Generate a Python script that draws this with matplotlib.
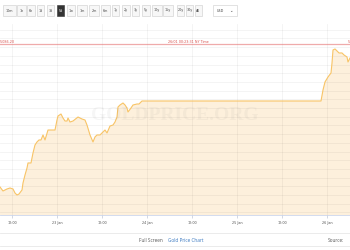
import numpy as np
import pandas as pd
import matplotlib
matplotlib.use("Agg")
import matplotlib.pyplot as plt
import matplotlib.dates as mdates
from matplotlib.patches import Rectangle
from matplotlib.ticker import FuncFormatter

# 5-day gold price (USD/oz), 22 Jan - 26 Jan
times = [
    "2026-01-22 08:48", "2026-01-22 09:36", "2026-01-22 10:40", "2026-01-22 11:28",
    "2026-01-22 12:16", "2026-01-22 12:48", "2026-01-22 13:20", "2026-01-22 13:52",
    "2026-01-22 14:40", "2026-01-22 14:56", "2026-01-22 15:28", "2026-01-22 16:00",
    "2026-01-22 16:16", "2026-01-22 17:04", "2026-01-22 17:36", "2026-01-22 18:08",
    "2026-01-22 18:40", "2026-01-22 19:12", "2026-01-22 19:44", "2026-01-22 20:16",
    "2026-01-22 20:48", "2026-01-22 21:36", "2026-01-22 23:28", "2026-01-23 00:00",
    "2026-01-23 00:16", "2026-01-23 01:04", "2026-01-23 01:36", "2026-01-23 02:08",
    "2026-01-23 02:40", "2026-01-23 02:56", "2026-01-23 03:28", "2026-01-23 04:16",
    "2026-01-23 05:36", "2026-01-23 06:40", "2026-01-23 07:28", "2026-01-23 08:00",
    "2026-01-23 08:48", "2026-01-23 09:36", "2026-01-23 10:08", "2026-01-23 10:40",
    "2026-01-23 11:28", "2026-01-23 12:16", "2026-01-23 12:48", "2026-01-23 13:20",
    "2026-01-23 14:08", "2026-01-23 14:56", "2026-01-23 15:28", "2026-01-23 16:00",
    "2026-01-23 16:16", "2026-01-23 16:48", "2026-01-23 17:36", "2026-01-23 18:08",
    "2026-01-23 18:40", "2026-01-23 18:56", "2026-01-23 19:44", "2026-01-23 20:16",
    "2026-01-23 21:20", "2026-01-23 21:52", "2026-01-23 22:40", "2026-01-25 22:24",
    "2026-01-25 22:56", "2026-01-25 23:28", "2026-01-26 00:16", "2026-01-26 01:04",
    "2026-01-26 01:20", "2026-01-26 01:36", "2026-01-26 02:08", "2026-01-26 02:40",
    "2026-01-26 03:12", "2026-01-26 04:00", "2026-01-26 04:32", "2026-01-26 05:20",
    "2026-01-26 05:36", "2026-01-26 06:08",
]
prices = [
    4758.6, 4749.4, 4754.0, 4756.3, 4754.0, 4744.8, 4740.2, 4742.5,
    4751.7, 4767.8, 4786.2, 4802.3, 4813.8, 4813.8, 4836.8, 4855.2,
    4862.1, 4866.7, 4866.7, 4878.2, 4866.7, 4889.6, 4889.6, 4912.6,
    4921.8, 4926.4, 4917.2, 4910.3, 4910.3, 4917.2, 4908.0, 4910.3,
    4919.5, 4914.9, 4912.6, 4901.1, 4878.2, 4862.1, 4873.6, 4878.2,
    4878.2, 4885.1, 4889.6, 4882.8, 4898.8, 4901.1, 4908.0, 4919.5,
    4942.5, 4947.1, 4951.7, 4947.1, 4940.2, 4931.0, 4940.2, 4947.1,
    4949.4, 4949.4, 4956.3, 4956.3, 4981.6, 5000.0, 5011.5, 5020.7,
    5043.7, 5073.6, 5075.9, 5071.3, 5066.7, 5066.7, 5062.1, 5057.5,
    5046.0, 5055.2,
]
last_price = 5086.2
last_label = "5,086.20"
time_label = "26/01 00:23:31 NY Time"
x_range = ["2026-01-22 08:48", "2026-01-26 06:08"]
y_range = [4694.2, 5133.3]

buttons = ["10m", "1h", "6h", "1d", "3d", "5d", "1w", "1m", "2m", "6m",
           "1y", "2y", "3y", "5y", "10y", "15y", "20y", "30y", "All"]
btn_x = [3, 17, 27, 37, 47, 57, 67, 77, 89, 101, 112, 122, 132, 142, 152, 163,
         177, 186, 195]
btn_w = [13, 9, 8, 7, 7, 7, 8, 10, 10, 9, 7, 8, 7, 8, 10, 10, 7, 7, 7]

LINE = "#f8c466"
FILL = "#fdf0dc"
RED = "#e57373"
W, H = 350, 250

t = pd.to_datetime(times)
fig = plt.figure(figsize=(3.5, 2.5), dpi=100)
fig.patch.set_facecolor("white")


def fx(x):
    return x / W


def fy(y):
    return 1 - y / H


ax = fig.add_axes([0, fy(215), 1, (215 - 24) / H])
ax.set_facecolor("white")
ax.fill_between(t, prices, y_range[0], color=FILL, lw=0, zorder=1)
ax.plot(t, prices, color=LINE, lw=0.8, zorder=3)
ax.set_xlim(pd.to_datetime(x_range))
ax.set_ylim(y_range)

ax.yaxis.set_major_locator(matplotlib.ticker.MultipleLocator(20))
ax.xaxis.set_major_locator(mdates.HourLocator(byhour=[0, 12]))
ax.xaxis.set_major_formatter(FuncFormatter(
    lambda v, p: mdates.num2date(v).strftime("%H:%M") if mdates.num2date(v).hour
    else mdates.num2date(v).strftime("%d Jan")))
ax.grid(True, color="black", alpha=0.05, lw=0.6, zorder=2)
ax.set_axisbelow(False)
ax.tick_params(axis="y", left=False, labelleft=False)
ax.tick_params(axis="x", length=2, width=0.5, color="#c0c8d8", pad=2,
               labelsize=2.4, labelcolor="#555555")
for s in ("top", "right", "left"):
    ax.spines[s].set_visible(False)
ax.spines["bottom"].set_color("#ccd6eb")
ax.spines["bottom"].set_linewidth(0.6)

# current price line
ax.axhline(last_price, color=RED, lw=0.9, alpha=0.6, zorder=4)
ax.text(0.0, last_price, last_label, transform=ax.get_yaxis_transform(),
        ha="left", va="bottom", fontsize=2.4, color="#d9534f", zorder=5)
ax.text(0.48, last_price, time_label, transform=ax.get_yaxis_transform(),
        ha="left", va="bottom", fontsize=2.4, color="#d9534f", zorder=5)
ax.text(0.993, last_price, "5,", transform=ax.get_yaxis_transform(),
        ha="left", va="bottom", fontsize=2.4, color="#d9534f", zorder=5, clip_on=False)

# watermark
ax.text(0.5, 0.52, "GOLDPRICE.ORG", transform=ax.transAxes, ha="center",
        va="center", fontsize=14, family="Liberation Serif", fontweight="bold",
        color="#808080", alpha=0.07, zorder=6)

# range buttons
for lab, x0, w in zip(buttons, btn_x, btn_w):
    sel = lab == "5d"
    fig.add_artist(Rectangle((fx(x0), fy(16)), w / W, 11 / H,
                             transform=fig.transFigure,
                             facecolor="#333333" if sel else "#f7f7f7",
                             edgecolor="#333333" if sel else "#cccccc", lw=0.4))
    fig.text(fx(x0 + w / 2), fy(10.5), lab, ha="center", va="center",
             fontsize=2.4, color="white" if sel else "#444444")
fig.add_artist(Rectangle((fx(213), fy(16)), 24 / W, 11 / H,
                         transform=fig.transFigure, facecolor="white",
                         edgecolor="#cccccc", lw=0.4))
fig.text(fx(217), fy(10.5), "USD", ha="left", va="center", fontsize=2.4,
         color="#444444")
fig.text(fx(231), fy(10.5), "\u2304", ha="center", va="center", fontsize=3,
         color="#444444")

# footer
for yy in (233, 246):
    fig.add_artist(plt.Line2D([0, 1], [fy(yy), fy(yy)], color="#e8e8e8", lw=0.6,
                              transform=fig.transFigure))
fig.text(fx(139), fy(240), "Full Screen", ha="left", va="center", fontsize=3.4,
         family="Open Sans", color="#555555")
fig.text(fx(168), fy(240), "Gold Price Chart", ha="left", va="center",
         fontsize=3.4, family="Open Sans", color="#3a78c0")
fig.text(fx(328), fy(240), "Source:", ha="left", va="center",
         fontsize=3.4, family="Open Sans", color="#555555")

fig.savefig("out.png", dpi=100)
